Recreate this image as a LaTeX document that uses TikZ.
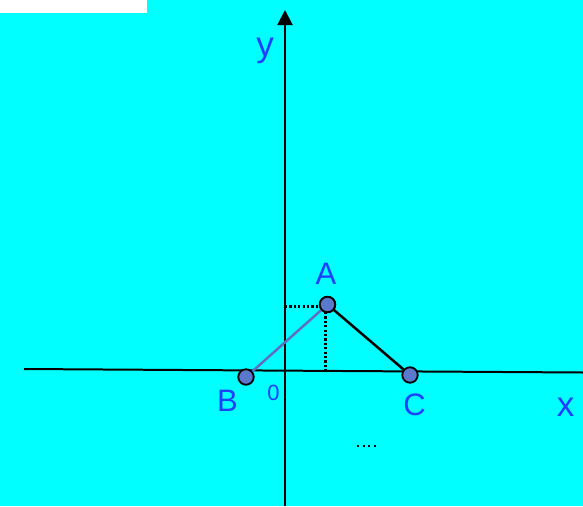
\documentclass[tikz,border=0pt]{standalone}
\usepackage{fontspec}
\setmainfont{Liberation Sans}
\usetikzlibrary{arrows.meta}
\definecolor{bgcyan}{HTML}{00FFFF}
\definecolor{lblblue}{HTML}{1F3FFF}
\definecolor{ptfill}{HTML}{5A78CC}
\definecolor{segblue}{HTML}{5F6FC4}
\tikzset{
  lbl/.style={text=lblblue, inner sep=0pt, font=\fontsize{31}{31}\selectfont},
  axlbl/.style={text=lblblue, inner sep=0pt, font=\fontsize{35}{35}\selectfont},
  pt/.style={circle, draw=black, line width=1.8pt, fill=ptfill, minimum size=15.5pt, inner sep=0pt},
  axis/.style={line width=2pt, black},
  guide/.style={line width=2.4pt, black, dash pattern=on 2.2pt off 2.2pt}
}
\begin{document}
\begin{tikzpicture}[x=1pt,y=-1pt]
\fill[bgcyan] (0,0) rectangle (583,506);
\useasboundingbox (0,0) rectangle (583,506);
\fill[white] (0,0) rectangle (147,13);
% axes
\coordinate (xl) at (24,369);
\coordinate (xr) at (583,372.5);
\coordinate (yb) at (285,506);
\coordinate (yt) at (285,10);
\draw[axis] (xl) -- (xr);
\draw[axis, -{Triangle[length=15pt,width=15pt]}] (yb) -- (yt);
% guides
\coordinate (g1) at (285,306.5);
\coordinate (g2) at (320,306.5);
\coordinate (g3) at (325.3,312);
\coordinate (g4) at (325.3,371);
\draw[guide] (g1) -- (g2);
\draw[guide] (g3) -- (g4);
\coordinate (d1) at (357,446);
\coordinate (d2) at (376,446);
\draw[line width=2.4pt, dash pattern=on 2.2pt off 3.4pt] (d1) -- (d2);
% points
\node[pt] (A) at (327.5,304.5) {};
\node[pt] (B) at (246,377) {};
\node[pt] (C) at (410,375) {};
\draw[segblue, line width=2.5pt] (B) -- (A.center);
\draw[black, line width=2.5pt] (A.center) -- (C);
\node[pt] at (A) {};
% labels
\node[lbl] (lA) at (326,274) {A};
\node[lbl] (lB) at (227.5,401) {B};
\node[lbl] (lC) at (414.5,404.5) {C};
\node[text=lblblue, inner sep=0pt, font=\fontsize{22}{22}\selectfont] (l0) at (273.5,393) {0};
\node[axlbl] (lx) at (565.5,407) {x};
\node[axlbl] (ly) at (265,50.5) {y};
\end{tikzpicture}
\end{document}
